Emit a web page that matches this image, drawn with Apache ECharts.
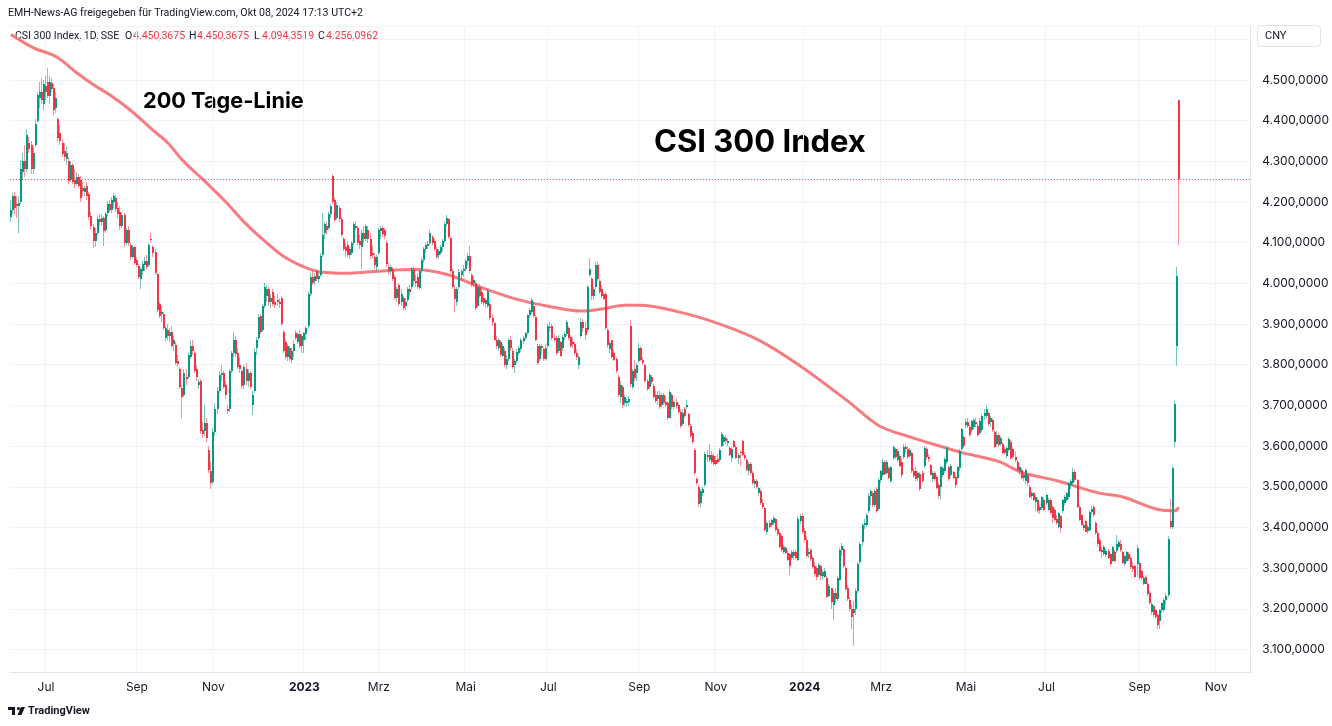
<!DOCTYPE html>
<html><head><meta charset="utf-8">
<script src="https://cdn.jsdelivr.net/npm/echarts@6/dist/echarts.min.js"></script>
<style>html,body{margin:0;padding:0;background:#fff;}#c{width:1332px;height:726px;}</style>
</head><body><div id="c"></div>
<script>
// ---------- data ----------
const START = [2022, 5, 8]; // 8 Jun 2022 (first bar)
const TOTAL_SLOTS = 600;    // trading-day slots on the time scale (incl. empty future)
const HOLIDAYS = ['2022-06-03','2022-09-12','2022-10-03','2022-10-04','2022-10-05','2022-10-06','2022-10-07',
'2023-01-02','2023-01-23','2023-01-24','2023-01-25','2023-01-26','2023-01-27','2023-04-05','2023-05-01','2023-05-02','2023-05-03',
'2023-06-22','2023-06-23','2023-09-29','2023-10-02','2023-10-03','2023-10-04','2023-10-05','2023-10-06',
'2024-01-01','2024-02-09','2024-02-12','2024-02-13','2024-02-14','2024-02-15','2024-02-16','2024-04-04','2024-04-05',
'2024-05-01','2024-05-02','2024-05-03','2024-06-10','2024-09-16','2024-09-17','2024-10-01','2024-10-02','2024-10-03','2024-10-04','2024-10-07'];
const MONTH_TICKS = {0:null, 2:'Mrz', 4:'Mai', 6:'Jul', 8:'Sep', 10:'Nov'}; // null => year label

// daily candles [open, high, low, close]
const CANDLES = [
[4164,4205,4152,4180],[4180,4222,4170,4215],[4215,4225,4170,4185],[4195,4215,4160,4190],[4190,4215,4125,4198],
[4200,4300,4195,4280],[4275,4320,4255,4300],[4300,4340,4262,4280],[4280,4380,4275,4365],[4345,4360,4320,4330],
[4340,4350,4268,4280],[4280,4335,4270,4320],[4340,4405,4335,4392],[4400,4470,4395,4462],[4455,4495,4430,4470],
[4470,4505,4440,4450],[4440,4500,4425,4490],[4485,4510,4450,4470],[4495,4530,4455,4460],[4460,4510,4440,4495],
[4492,4505,4470,4478],[4480,4490,4415,4425],[4430,4470,4420,4455],[4405,4410,4350,4358],[4370,4390,4340,4350],
[4345,4355,4310,4318],[4325,4345,4300,4310],[4305,4335,4290,4320],[4300,4310,4245,4252],[4255,4300,4250,4290],
[4290,4295,4245,4250],[4255,4280,4235,4245],[4245,4275,4240,4262],[4262,4270,4235,4240],[4255,4265,4200,4210],
[4235,4250,4215,4228],[4225,4240,4215,4235],[4240,4250,4205,4215],[4220,4225,4155,4162],[4165,4175,4130,4140],
[4138,4145,4086,4105],[4105,4135,4090,4125],[4125,4165,4120,4158],[4158,4170,4140,4150],[4150,4170,4140,4160],
[4160,4165,4092,4128],[4130,4175,4125,4170],[4172,4203,4165,4194],[4194,4205,4175,4180],[4180,4212,4172,4205],
[4200,4222,4185,4215],[4210,4218,4175,4182],[4185,4200,4160,4170],[4175,4190,4130,4140],[4140,4175,4135,4168],
[4168,4172,4090,4100],[4100,4135,4095,4130],[4130,4140,4092,4100],[4095,4100,4058,4065],[4065,4095,4060,4090],
[4090,4092,4045,4050],[4058,4065,4040,4045],[4042,4048,4010,4015],[4012,4040,3986,4035],[4030,4055,4020,4048],
[4045,4065,4030,4055],[4055,4070,4035,4040],[4045,4100,4040,4095],[4110,4125,4100,4108],[4090,4095,4065,4075],
[4078,4085,4020,4025],[4022,4025,3930,3935],[3950,3955,3915,3920],[3925,3945,3905,3930],[3925,3930,3885,3890],
[3865,3895,3858,3890],[3885,3900,3860,3870],[3870,3890,3855,3880],[3880,3895,3840,3845],[3850,3870,3835,3860],
[3848,3855,3800,3805],[3810,3825,3795,3802],[3790,3795,3740,3745],[3742,3750,3668,3720],[3725,3790,3720,3780],
[3770,3790,3750,3765],[3770,3830,3765,3825],[3820,3862,3815,3845],[3845,3860,3825,3835],[3830,3835,3780,3785],
[3790,3800,3760,3770],[3750,3765,3740,3758],[3760,3765,3630,3638],[3640,3660,3620,3630],[3636,3700,3625,3658],
[3658,3670,3610,3620],[3590,3600,3535,3541],[3540,3560,3495,3510],[3512,3645,3508,3635],[3635,3705,3625,3690],
[3690,3745,3680,3735],[3735,3785,3730,3775],[3775,3800,3760,3780],[3780,3785,3740,3745],[3750,3760,3715,3725],
[3690,3700,3680,3686],[3690,3790,3685,3785],[3785,3835,3780,3828],[3830,3880,3820,3862],[3860,3870,3820,3826],
[3830,3840,3790,3795],[3800,3820,3780,3790],[3785,3790,3740,3748],[3750,3800,3740,3795],[3790,3805,3750,3760],
[3760,3790,3745,3780],[3780,3785,3740,3745],[3700,3735,3676,3725],[3735,3840,3730,3832],[3840,3868,3825,3860],
[3865,3925,3860,3918],[3920,3925,3875,3880],[3885,3950,3880,3945],[3945,4002,3940,3990],[3970,3995,3955,3985],
[3985,3990,3945,3955],[3955,3975,3940,3965],[3978,3985,3945,3950],[3955,3970,3940,3948],[3960,3975,3945,3955],
[3955,3965,3940,3950],[3965,3970,3895,3900],[3880,3885,3830,3835],[3855,3860,3815,3820],[3820,3850,3810,3845],
[3840,3845,3810,3815],[3812,3840,3805,3835],[3835,3860,3820,3850],[3878,3885,3860,3865],[3855,3880,3850,3875],
[3875,3885,3840,3845],[3845,3875,3830,3871],[3860,3880,3830,3878],[3875,3895,3860,3890],[3895,3980,3890,3975],
[3975,4025,3970,4015],[4015,4030,3995,4000],[4005,4025,3995,4018],[4030,4035,4005,4010],[4010,4025,4000,4018],
[4020,4075,4015,4068],[4070,4172,4065,4120],[4125,4150,4110,4145],[4140,4150,4120,4130],[4135,4175,4130,4170],
[4170,4195,4160,4190],[4263,4268,4195,4200],[4205,4210,4150,4155],[4160,4200,4155,4192],[4185,4190,4150,4158],
[4158,4162,4115,4118],[4110,4115,4080,4085],[4090,4100,4065,4080],[4095,4105,4065,4070],[4070,4090,4060,4085],
[4075,4105,4070,4100],[4100,4150,4095,4145],[4140,4153,4130,4135],[4135,4140,4095,4100],[4105,4120,4085,4095],
[4090,4130,4035,4125],[4125,4140,4100,4110],[4110,4145,4105,4140],[4130,4140,4100,4110],[4110,4125,4060,4068],
[4075,4095,4060,4070],[4065,4075,4035,4045],[4040,4070,4030,4065],[4075,4137,4070,4130],[4128,4140,4110,4135],
[4135,4140,4115,4122],[4130,4135,4110,4117],[4100,4105,4040,4048],[4040,4050,4020,4030],[4030,4045,4020,4040],
[4035,4040,4005,4010],[4015,4020,3960,3965],[3965,3990,3955,3985],[3995,4000,3945,3950],[3955,3985,3945,3975],
[3965,3970,3935,3940],[3945,3965,3935,3955],[3960,3990,3955,3985],[3985,3995,3970,3980],[3990,4040,3985,4035],
[4032,4040,3995,4005],[4005,4020,3990,4000],[4015,4025,3985,3992],[3988,4035,3984,4030],[4030,4062,4025,4058],
[4058,4090,4050,4085],[4085,4100,4075,4095],[4092,4105,4085,4098],[4100,4132,4095,4125],[4115,4120,4095,4100],
[4105,4110,4080,4085],[4085,4090,4060,4065],[4070,4085,4060,4080],[4075,4095,4070,4090],[4090,4110,4080,4105],
[4105,4150,4100,4145],[4145,4168,4140,4160],[4158,4160,4110,4115],[4112,4115,4025,4030],[4030,4035,3985,3990],
[3985,3995,3930,3962],[3955,3990,3945,3985],[3990,4035,3985,4028],[4020,4035,4005,4030],[4030,4045,4015,4035],
[4035,4060,4030,4055],[4055,4075,4045,4068],[4068,4091,4025,4030],[4020,4025,3990,3995],[4000,4015,3990,4008],
[4000,4005,3935,3940],[3945,3995,3940,3990],[3990,3998,3965,3970],[3980,3985,3950,3955],[3965,3975,3945,3952],
[3950,3965,3940,3960],[3945,3985,3940,3982],[3950,3955,3910,3915],[3915,3925,3895,3905],[3902,3905,3858,3862],
[3862,3870,3838,3845],[3840,3865,3835,3860],[3855,3860,3820,3825],[3822,3850,3818,3845],[3835,3840,3795,3800],
[3800,3825,3790,3815],[3815,3865,3810,3860],[3862,3870,3835,3840],[3835,3840,3790,3795],[3800,3815,3779,3808],
[3808,3838,3805,3832],[3830,3845,3825,3840],[3838,3865,3832,3860],[3858,3870,3850,3865],[3866,3880,3860,3877],
[3878,3925,3875,3922],[3922,3940,3915,3935],[3930,3965,3925,3960],[3945,3955,3915,3920],[3918,3922,3858,3862],
[3845,3850,3800,3805],[3815,3850,3810,3845],[3845,3850,3825,3840],[3838,3842,3810,3815],[3815,3850,3810,3842],
[3845,3900,3840,3895],[3893,3905,3880,3890],[3895,3900,3860,3865],[3865,3875,3855,3860],[3865,3870,3825,3830],
[3835,3872,3830,3865],[3855,3858,3818,3822],[3840,3872,3835,3868],[3868,3880,3860,3875],[3875,3910,3870,3905],
[3890,3895,3860,3865],[3868,3872,3840,3845],[3855,3865,3840,3850],[3852,3855,3825,3830],[3830,3838,3812,3818],
[3800,3825,3790,3820],[3870,3915,3865,3905],[3905,3912,3880,3890],[3890,3905,3860,3872],[3885,3995,3880,3990],
[4020,4063,4015,4035],[4010,4015,3960,3968],[3968,3990,3960,3985],[3990,4052,3985,4045],[4045,4055,4005,4012],
[4005,4010,3975,3980],[3985,3995,3965,3970],[3975,3980,3958,3962],[3975,3980,3885,3890],[3885,3890,3840,3848],
[3838,3858,3830,3853],[3860,3862,3815,3820],[3830,3838,3808,3812],[3815,3820,3780,3785],[3770,3775,3720,3725],
[3720,3760,3705,3750],[3745,3750,3693,3700],[3705,3725,3698,3720],[3705,3715,3695,3710],[3708,3722,3698,3715],
[3895,3910,3745,3752],[3745,3790,3740,3785],[3790,3812,3760,3768],[3780,3805,3760,3800],[3810,3853,3805,3842],
[3840,3845,3808,3812],[3812,3820,3800,3805],[3800,3802,3755,3760],[3760,3765,3735,3740],[3745,3780,3740,3775],
[3770,3775,3752,3758],[3748,3752,3715,3720],[3725,3735,3705,3710],[3715,3735,3700,3725],[3725,3735,3690,3695],
[3700,3730,3695,3725],[3725,3730,3700,3705],[3708,3722,3695,3700],[3705,3710,3665,3670],[3670,3738,3668,3732],
[3725,3730,3690,3695],[3695,3712,3688,3708],[3708,3715,3690,3698],[3700,3705,3680,3685],[3685,3690,3645,3650],
[3655,3690,3650,3682],[3690,3695,3670,3675],[3696,3714,3690,3702],[3678,3682,3648,3652],[3650,3655,3620,3625],
[3632,3638,3605,3610],[3590,3595,3530,3535],[3520,3525,3505,3510],[3500,3505,3450,3458],[3460,3495,3449,3490],
[3485,3500,3478,3494],[3505,3585,3500,3580],[3578,3590,3560,3572],[3567,3604,3560,3579],[3578,3588,3555,3560],
[3575,3582,3552,3556],[3565,3575,3550,3555],[3568,3580,3555,3560],[3565,3595,3560,3590],[3600,3635,3598,3630],
[3610,3628,3600,3622],[3620,3628,3605,3612],[3608,3618,3600,3612],[3595,3600,3575,3578],[3570,3598,3562,3594],
[3612,3616,3595,3598],[3598,3602,3568,3570],[3570,3582,3555,3578],[3585,3590,3550,3582],[3612,3615,3575,3578],
[3578,3585,3565,3570],[3566,3570,3538,3541],[3540,3560,3530,3555],[3555,3560,3530,3533],[3533,3538,3505,3509],
[3508,3520,3498,3515],[3515,3520,3495,3500],[3484,3500,3478,3496],[3490,3495,3455,3460],[3460,3470,3445,3450],
[3447,3450,3390,3394],[3388,3415,3382,3410],[3410,3418,3395,3400],[3405,3422,3400,3418],[3410,3427,3405,3423],
[3420,3424,3390,3394],[3395,3402,3380,3385],[3386,3390,3350,3353],[3378,3382,3340,3345],[3340,3358,3335,3353],
[3350,3355,3335,3338],[3337,3342,3318,3321],[3335,3338,3284,3305],[3325,3345,3320,3340],[3340,3345,3320,3330],
[3340,3345,3322,3325],[3320,3428,3318,3422],[3415,3432,3408,3428],[3428,3435,3385,3390],[3392,3398,3365,3370],
[3370,3378,3325,3330],[3335,3350,3325,3340],[3345,3350,3318,3322],[3325,3330,3298,3302],[3305,3315,3278,3285],
[3300,3305,3270,3278],[3282,3312,3278,3308],[3305,3310,3272,3280],[3280,3295,3270,3290],[3278,3301,3275,3292],
[3276,3280,3226,3230],[3232,3262,3228,3255],[3250,3252,3200,3218],[3210,3246,3173,3240],[3240,3250,3215,3225],
[3225,3280,3220,3275],[3272,3350,3268,3345],[3345,3362,3330,3355],[3348,3352,3300,3305],[3300,3305,3245,3248],
[3250,3258,3220,3225],[3222,3228,3195,3200],[3200,3210,3150,3180],[3190,3220,3108,3200],[3200,3250,3185,3245],
[3245,3315,3240,3310],[3315,3365,3310,3360],[3365,3412,3355,3405],[3405,3420,3395,3412],[3405,3435,3400,3430],
[3440,3485,3435,3478],[3478,3494,3455,3490],[3485,3490,3450,3455],[3455,3494,3450,3490],[3495,3500,3435,3440],
[3445,3522,3440,3516],[3516,3542,3510,3538],[3530,3568,3525,3562],[3560,3565,3528,3532],[3535,3565,3530,3560],
[3545,3550,3518,3522],[3515,3552,3510,3548],[3570,3602,3565,3598],[3592,3596,3568,3572],[3566,3592,3562,3588],
[3575,3580,3548,3552],[3560,3568,3522,3530],[3572,3606,3568,3598],[3598,3605,3585,3592],[3592,3600,3568,3572],
[3575,3595,3570,3590],[3582,3585,3535,3540],[3540,3545,3522,3526],[3540,3548,3515,3520],[3522,3540,3515,3535],
[3532,3536,3490,3495],[3535,3540,3510,3515],[3550,3600,3545,3595],[3594,3598,3568,3572],[3572,3580,3560,3568],
[3553,3556,3528,3530],[3520,3540,3512,3535],[3535,3540,3515,3518],[3525,3528,3494,3498],[3505,3510,3470,3478],
[3500,3552,3468,3548],[3530,3552,3525,3545],[3540,3572,3535,3568],[3560,3600,3555,3595],[3548,3552,3515,3518],
[3530,3556,3525,3552],[3536,3540,3518,3522],[3525,3528,3496,3505],[3522,3552,3518,3548],[3545,3592,3540,3588],
[3592,3645,3588,3642],[3622,3628,3595,3600],[3652,3667,3645,3660],[3660,3668,3645,3650],[3648,3652,3622,3627],
[3640,3665,3635,3662],[3647,3668,3640,3663],[3660,3670,3648,3655],[3650,3655,3622,3627],[3632,3668,3628,3662],
[3640,3680,3635,3675],[3675,3690,3665,3682],[3675,3700,3670,3690],[3682,3685,3650,3655],[3660,3675,3648,3670],
[3664,3668,3635,3640],[3635,3640,3595,3598],[3605,3636,3600,3628],[3628,3632,3598,3602],[3605,3625,3600,3620],
[3606,3610,3580,3584],[3592,3600,3578,3582],[3576,3600,3570,3596],[3590,3622,3585,3618],[3610,3614,3565,3570],
[3594,3598,3568,3572],[3572,3585,3560,3565],[3562,3566,3538,3542],[3537,3552,3530,3549],[3541,3545,3518,3522],
[3522,3535,3515,3530],[3513,3545,3508,3541],[3529,3533,3502,3509],[3500,3504,3472,3476],[3478,3490,3470,3484],
[3484,3488,3465,3468],[3462,3480,3440,3475],[3468,3472,3436,3440],[3442,3455,3432,3450],[3447,3478,3442,3476],
[3468,3472,3440,3443],[3460,3482,3455,3480],[3443,3472,3440,3468],[3468,3472,3432,3435],[3451,3455,3411,3423],
[3443,3448,3415,3419],[3420,3430,3405,3410],[3402,3438,3398,3435],[3427,3430,3386,3398],[3440,3470,3436,3468],
[3460,3480,3455,3476],[3468,3486,3462,3484],[3476,3512,3470,3509],[3505,3520,3495,3515],[3509,3545,3505,3537],
[3537,3542,3512,3517],[3517,3520,3448,3451],[3451,3455,3415,3419],[3431,3434,3404,3407],[3398,3410,3392,3407],
[3415,3418,3388,3390],[3392,3405,3385,3400],[3394,3442,3390,3439],[3439,3452,3430,3445],[3450,3455,3425,3431],
[3410,3415,3382,3386],[3386,3392,3352,3360],[3369,3375,3340,3343],[3345,3352,3326,3340],[3335,3356,3330,3352],
[3332,3348,3328,3343],[3343,3348,3322,3326],[3335,3338,3305,3309],[3318,3355,3314,3352],[3340,3345,3315,3318],
[3343,3382,3338,3360],[3352,3368,3348,3364],[3360,3368,3340,3345],[3339,3342,3310,3313],[3309,3335,3305,3330],
[3318,3342,3314,3339],[3335,3340,3318,3322],[3325,3330,3298,3302],[3305,3315,3290,3298],[3305,3308,3276,3279],
[3309,3356,3279,3350],[3313,3318,3272,3275],[3292,3296,3270,3275],[3262,3280,3258,3275],[3278,3282,3260,3262],
[3262,3265,3232,3236],[3240,3244,3210,3214],[3192,3218,3186,3212],[3206,3210,3180,3184],[3197,3200,3175,3180],
[3184,3188,3150,3160],[3171,3200,3150,3196],[3197,3218,3190,3214],[3197,3226,3192,3222],[3222,3240,3210,3232],
[3235,3380,3228,3372],[3415,3470,3395,3400],[3400,3550,3395,3545],[3610,3710,3598,3703],[3845,4040,3797,4017],
[4450.3675,4450.3675,4094.3519,4256.0962]
];

// 200-day moving average, read at sample bars [barIndex, value]
const MA200 = [[0,4612],[11,4579],[22,4557],[32,4517],[40,4488],[48,4463],[58,4425],[68,4380],[76,4345],[83,4303],
[94,4250],[104,4200],[113,4150],[123,4103],[132,4066],[142,4040],[150,4028],[164,4025],[178,4030],
[195,4034],[211,4022],[228,3989],[244,3962],[260,3944],[276,3932],[286,3937],[297,3946],[304,3946],[323,3930],
[343,3900],[362,3860],[381,3800],[405,3710],[420,3650],[436,3621],[452,3596],[460,3584],[478,3562],[489,3535],
[506,3515],[526,3485],[538,3475],[555,3444],[563,3441],[565,3450]];

const HEADER_OHLC = [['O','4.450,3675'],['H','4.450,3675'],['L','4.094,3519'],['C','4.256,0962']];
const LAST_CLOSE = 4256.0962;

// ---------- build ----------
const hol = new Set(HOLIDAYS);
const dates = [];
{ const d = new Date(Date.UTC(START[0], START[1], START[2]));
  while (dates.length < TOTAL_SLOTS) {
    const w = d.getUTCDay(), s = d.toISOString().slice(0,10);
    if (w !== 0 && w !== 6 && !hol.has(s)) dates.push(s);
    d.setUTCDate(d.getUTCDate() + 1);
  } }
const labelAt = {};
for (let i = 1; i < dates.length; i++) {
  const m = +dates[i].slice(5,7) - 1, pm = +dates[i-1].slice(5,7) - 1;
  if (m !== pm && (m in MONTH_TICKS)) labelAt[i] = MONTH_TICKS[m] === null ? '{y|' + dates[i].slice(0,4) + '}' : MONTH_TICKS[m];
}
const isTick = (i) => labelAt[i] !== undefined;
const candleData = CANDLES.map((r, i) => [i, r[0], r[1], r[2], r[3]]);
const lastIdx = CANDLES.length - 1;
const fmt = v => { if (v > 4550) return ''; const s = v.toFixed(4).split('.'); return s[0].replace(/\B(?=(\d{3})+(?!\d))/g, '.') + ',' + s[1]; };

const FONT = 'Inter, "Noto Sans", Roboto, sans-serif';
const SFONT = 'Roboto, "Liberation Sans", sans-serif';
const TXT = '#131722';
const UP = '#089981', DOWN = '#F23645';

const PLOT_LEFT = 9.8, PLOT_TOP = 26, PLOT_W = 1241.4, PLOT_H = 646;
const chart = echarts.init(document.getElementById('c'), null, {renderer: 'canvas'});

const graphics = [
  {type:'text', x:8, y:13, style:{text:'EMH-News-AG freigegeben für TradingView.com, Okt 08, 2024 17:13 UTC+2', font:'10.6px ' + SFONT, fill:TXT, verticalAlign:'middle'}},
  {type:'text', x:15, y:36, style:{text:'CSI 300 Index, 1D, SSE', font:'10.5px ' + SFONT, fill:TXT, verticalAlign:'middle'}},
  {type:'rect', z:100, shape:{x:1257.5, y:25.5, width:63, height:21, r:4}, style:{fill:'#fff', stroke:'#e0e3eb', lineWidth:1}},
  {type:'text', z:101, x:1265, y:36, style:{text:'CNY', font:'11px ' + SFONT, fill:TXT, verticalAlign:'middle'}},
  {type:'text', x:143, y:101, style:{text:'200 Tage-Linie', font:'bold 21.7px ' + FONT, fill:'#000', verticalAlign:'middle'}},
  {type:'text', x:654, y:143, style:{text:'CSI 300 Index', font:'bold 31px ' + FONT, fill:'#000', verticalAlign:'middle'}},
  // TradingView logo
  {type:'rect', shape:{x:8, y:707, width:7, height:3}, style:{fill:TXT}},
  {type:'rect', shape:{x:12, y:707, width:3, height:8}, style:{fill:TXT}},
  {type:'circle', shape:{cx:18.5, cy:708.5, r:1.6}, style:{fill:TXT}},
  {type:'polygon', shape:{points:[[21,707],[25,707],[21.5,715],[17.5,715]]}, style:{fill:TXT}},
  {type:'text', x:28, y:711, style:{text:'TradingView', font:'bold 11px ' + SFONT, fill:TXT, verticalAlign:'middle'}}
];
const ohlcX = [125, 189, 254, 318];
HEADER_OHLC.forEach((p, i) => {
  graphics.push({type:'text', x:ohlcX[i], y:36, style:{text:p[0], font:'10.5px ' + SFONT, fill:TXT, verticalAlign:'middle'}});
  graphics.push({type:'text', x:ohlcX[i] + 8, y:36, style:{text:p[1], font:'10.5px ' + SFONT, fill:DOWN, verticalAlign:'middle'}});
});

function renderCandle(params, api) {
  const i = api.value(0), o = api.value(1), h = api.value(2), l = api.value(3), c = api.value(4);
  const X = Math.round(api.coord([i, o])[0]);
  const yO = api.coord([i, o])[1], yC = api.coord([i, c])[1];
  const yH = Math.round(api.coord([i, h])[1]), yL = Math.round(api.coord([i, l])[1]);
  const col = c >= o ? UP : DOWN;
  let top = Math.round(Math.min(yO, yC)), bot = Math.round(Math.max(yO, yC));
  if (bot - top < 1) bot = top + 1;
  const children = [
    {type:'rect', shape:{x:X - 1, y:yH, width:1, height:Math.max(1, yL - yH)}, style:{fill:col, opacity:0.55}},
    {type:'rect', shape:{x:X - 1, y:top, width:2, height:bot - top}, style:{fill:col}}
  ];
  if (params.dataIndex === lastIdx) {
    const cs = params.coordSys;
    const Y = Math.round(api.coord([i, c])[1]) + 0.5;
    children.unshift({type:'line', shape:{x1:cs.x, y1:Y, x2:cs.x + cs.width, y2:Y}, style:{stroke:DOWN, lineWidth:1, lineDash:[1,2]}});
  }
  return {type:'group', children};
}

chart.setOption({
  animation: false,
  backgroundColor: '#fff',
  grid: {left: PLOT_LEFT, top: PLOT_TOP, width: PLOT_W, height: PLOT_H, containLabel: false},
  xAxis: {
    type: 'category', data: dates, boundaryGap: true,
    axisLine: {show: true, lineStyle: {color: '#e0e3eb'}},
    axisTick: {show: false},
    axisLabel: {interval: (i) => isTick(i), formatter: (v, i) => labelAt[i] || '', color: TXT, fontSize: 12, fontFamily: FONT, margin: 9,
      rich: {y: {fontWeight: 'bold', fontSize: 12, color: TXT, fontFamily: FONT}}},
    splitLine: {show: true, interval: (i) => isTick(i), lineStyle: {color: '#f0f3fa', width: 1}}
  },
  yAxis: {
    type: 'value', position: 'right', min: 3044.7, max: 4632.7, splitNumber: 16, scale: true,
    axisLine: {show: true, lineStyle: {color: '#e0e3eb'}},
    axisTick: {show: false},
    axisLabel: {formatter: fmt, color: TXT, fontSize: 12, fontFamily: FONT, margin: 12, showMinLabel: false, showMaxLabel: false},
    splitLine: {show: true, lineStyle: {color: '#f0f3fa', width: 1}}
  },
  series: [
    {type: 'line', data: MA200, smooth: 0.35, showSymbol: false, z: 1, silent: true,
     lineStyle: {color: '#F77C80', width: 3}},
    {type: 'custom', data: candleData, renderItem: renderCandle, z: 2, clip: false,
     encode: {x: 0, y: [1, 2, 3, 4]}}
  ],
  graphic: graphics
});
</script></body></html>
